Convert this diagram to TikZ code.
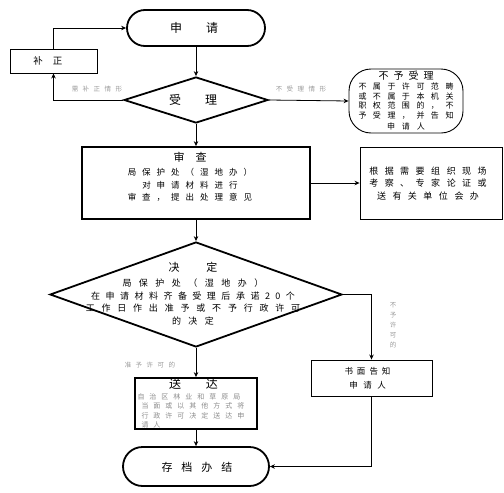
\documentclass[tikz,border=0pt]{standalone}
\usepackage{fontspec}
\setmainfont{Noto Sans CJK SC}
\usetikzlibrary{shapes.geometric,arrows.meta}
\newdimen\chgap
\def\ls#1#2{\chgap=#1pt\lsA#2\relax\unskip}
\def\lsA#1{\ifx#1\relax\else#1\hspace{\chgap}\expandafter\lsA\fi}
\begin{document}
\begin{tikzpicture}[x=1pt,y=-1pt,
  thk/.style={draw, line width=1.8pt, inner sep=0pt},
  thn/.style={draw, line width=0.9pt, inner sep=0pt},
  arr/.style={-{Stealth[length=5pt,width=4.5pt]}, line width=0.8pt},
  txt/.style={inner sep=0pt, align=center},
  glbl/.style={inner sep=0pt, text=black!40, font=\fontsize{6.5}{8}\selectfont},
]
\useasboundingbox (0,0) rectangle (504,493);

% shapes
\node[thk, rectangle, rounded corners=18pt, minimum width=138pt, minimum height=36pt] (sq) at (196,28) {};
\node[txt, font=\fontsize{12}{14}\selectfont] (sqt) at (194,28) {申\hspace{24pt}请};

\node[thn, minimum width=87pt, minimum height=24pt] (bz) at (53.5,61) {};
\node[txt, font=\fontsize{9.5}{11}\selectfont] (bzt) at (48,61) {\ls{10}{补正}};

\node[thk, diamond, minimum width=144pt, minimum height=46pt] (sl) at (196,100) {};
\node[txt, font=\fontsize{12}{14}\selectfont] (slt) at (193,100) {受\hspace{24pt}理};

\node[thn, rectangle, rounded corners=22pt, minimum width=114pt, minimum height=64pt] (bysl) at (406,101) {};
\node[txt, font=\fontsize{8}{9.6}\selectfont] (byslt) at (406,101) {{\fontsize{10}{10}\selectfont\ls{5}{不予受理}}\\\ls{6.5}{不属于许可范畴}\\\ls{6.5}{或不属于本机关}\\\ls{6.5}{职权范围的，不}\\\ls{6.5}{予受理，并告知}\\[2pt]\ls{7}{申请人}};

\node[thk, minimum width=228pt, minimum height=72pt] (sc) at (196,183) {};
\node[txt, font=\fontsize{8.5}{12.5}\selectfont] (sct) at (190,177) {{\fontsize{11}{12}\selectfont 审\hspace{11pt}查}\\[2pt]\ls{6}{局保护处（湿地办）}\\\ls{6}{对申请材料进行}\\\ls{6}{审查，提出处理意见}};

\node[thn, minimum width=142pt, minimum height=72pt] (gj) at (431,183) {};
\node[txt, font=\fontsize{9}{12.5}\selectfont] (gjt) at (428,183.5) {\ls{6.5}{根据需要组织现场}\\\ls{6.5}{考察、专家论证或}\\\ls{6.5}{送有关单位会办}};

\node[thk, diamond, minimum width=292pt, minimum height=105pt] (jd) at (196,294.5) {};
\node[txt, font=\fontsize{9}{12.7}\selectfont] (jdt) at (193,294) {{\fontsize{11}{12}\selectfont 决\hspace{27pt}定}\\[2pt]\ls{7.5}{局保护处（湿地办）}\\\ls{5.5}{在申请材料齐备受理后承诺20个}\\\ls{6.8}{工作日作出准予或不予行政许可}\\\ls{7.5}{的决定}};

\node[thn, minimum width=121pt, minimum height=36pt] (sm) at (371.5,378) {};
\node[txt, font=\fontsize{8.5}{14}\selectfont] (smt) at (367.5,378) {\ls{4}{书面告知}\\\ls{5.5}{申请人}};

\node[thk, minimum width=122pt, minimum height=51pt] (sd) at (196,403.5) {};
\node[txt, font=\fontsize{12}{12}\selectfont] (sdt) at (193.5,384) {送\hspace{25pt}达};
\node[inner sep=0pt, align=left, text=black!45, font=\fontsize{7}{9.5}\selectfont] (sdb) at (191,411) {\ls{5}{自治区林业和草原局}\\\hspace*{4pt}\ls{5}{当面或以其他方式将}\\\hspace*{4pt}\ls{5}{行政许可决定送达申}\\\hspace*{4pt}\ls{5}{请人}};

\node[thk, rectangle, rounded corners=19.5pt, minimum width=146pt, minimum height=39pt] (cd) at (196,466.5) {};
\node[txt, font=\fontsize{11}{12}\selectfont] (cdt) at (197,467) {\ls{9}{存档办结}};

% connectors
\draw[arr] (sq.south) -- (sl.north);
\draw[arr] (bz.north) |- (sq.west);
\draw[arr] (sl.west) -| (bz.south);
\draw[arr] (sl.east) -- (bysl.west);
\draw[arr] (sl.south) -- (sc.north);
\draw[arr] (sc.east) -- (gj.west);
\draw[arr] (sc.south) -- (jd.north);
\draw[arr] (jd.east) -| (sm.north);
\draw[arr] (jd.south) -- (sd.north);
\draw[arr] (sd.south) -- (cd.north);
\draw[arr] (sm.south) |- (cd.east);

% labels
\node[glbl] (l1) at (97,89) {\ls{4.5}{需补正情形}};
\node[glbl] (l2) at (301,89) {\ls{4.5}{不受理情形}};
\node[glbl] (l3) at (150,365) {\ls{4.5}{准予许可的}};
\node[glbl, align=center, font=\fontsize{6.5}{10}\selectfont] (l4) at (393,325) {不\\予\\许\\可\\的};
\end{tikzpicture}
\end{document}
